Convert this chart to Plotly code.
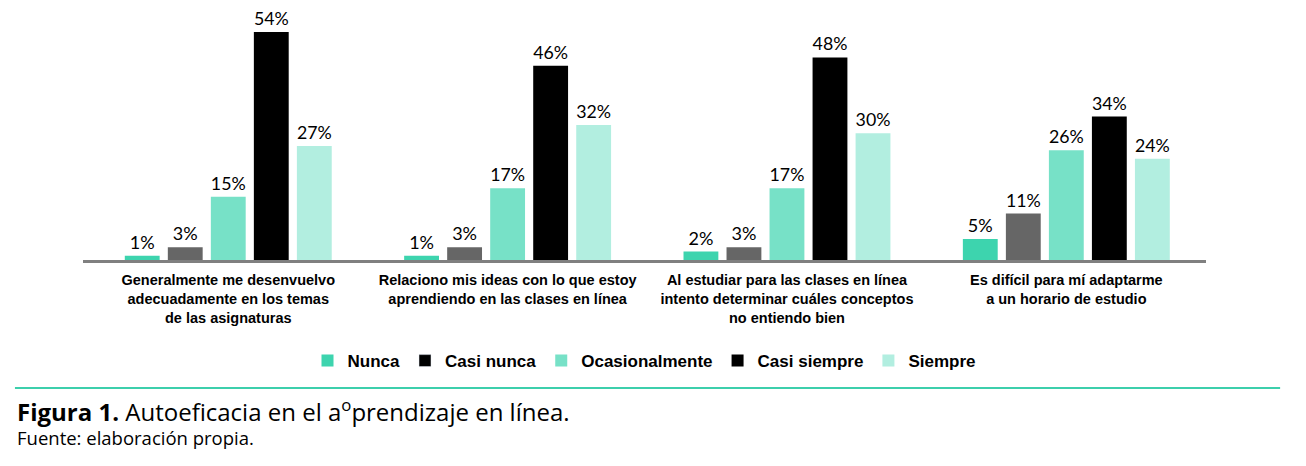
import plotly.graph_objects as go

categorias = [
    "Generalmente me desenvuelvo<br>adecuadamente en los temas<br>de las asignaturas",
    "Relaciono mis ideas con lo que estoy<br>aprendiendo en las clases en línea",
    "Al estudiar para las clases en línea<br>intento determinar cuáles conceptos<br>no entiendo bien",
    "Es difícil para mí adaptarme<br>a un horario de estudio",
]
series = ["Nunca", "Casi nunca", "Ocasionalmente", "Casi siempre", "Siempre"]
nunca = [1, 1, 2, 5]
casi_nunca = [3, 3, 3, 11]
ocasionalmente = [15, 17, 17, 26]
casi_siempre = [54, 46, 48, 34]
siempre = [27, 32, 30, 24]

valores = [nunca, casi_nunca, ocasionalmente, casi_siempre, siempre]
colores_barras = ["#3dd4ae", "#666666", "#77e1c7", "#000000", "#b2eee0"]
colores_leyenda = ["#3dd4ae", "#000000", "#77e1c7", "#000000", "#b2eee0"]

x = list(range(len(categorias)))

fig = go.Figure()
for nombre, vals, cb, cl in zip(series, valores, colores_barras, colores_leyenda):
    fig.add_trace(go.Bar(
        x=x, y=vals, name=nombre,
        marker=dict(color=cb, line=dict(width=0)),
        text=[f"{v}%" for v in vals],
        textposition="outside",
        textfont=dict(family="Lato, sans-serif", size=18, color="black"),
        cliponaxis=False,
        showlegend=(cb == cl),
    ))
    if cb != cl:
        # entrada de leyenda con el color del original
        fig.add_trace(go.Bar(
            x=[None], y=[None], name=nombre,
            marker=dict(color=cl),
            xaxis="x2", yaxis="y2",
        ))

fig.update_layout(
    width=1306, height=466,
    margin=dict(l=75, r=108, t=0, b=214),
    paper_bgcolor="white", plot_bgcolor="white",
    barmode="group", bargap=0.23, bargroupgap=0.19,
    xaxis=dict(
        tickvals=x, ticktext=categorias, range=[-0.52, 3.5],
        showline=True, linecolor="#808080", linewidth=3,
        showgrid=False, zeroline=False, ticks="", ticklabelstandoff=5,
        tickfont=dict(family="Liberation Sans, Arial, sans-serif", size=14.5,
                      color="black", weight="bold"),
    ),
    yaxis=dict(range=[0, 59.7], visible=False, showgrid=False),
    xaxis2=dict(overlaying="x", visible=False),
    yaxis2=dict(overlaying="y", visible=False),
    legend=dict(
        orientation="h", x=0.5, xanchor="center", y=-0.401, yanchor="middle",
        font=dict(family="Liberation Sans Narrow, Arial Narrow, sans-serif", size=17,
                  color="black", weight="bold"),
        itemclick=False,
    ),
    font=dict(family="Liberation Sans, Arial, sans-serif", color="black"),
    shapes=[dict(
        type="line", xref="paper", yref="paper",
        x0=-0.0606, x1=1.066, y0=-0.508, y1=-0.508,
        line=dict(color="#3ccfac", width=2),
    )],
    annotations=[
        dict(
            xref="paper", yref="paper", x=-0.0606, y=-0.599,
            xanchor="left", yanchor="middle", showarrow=False,
            text="<b>Figura 1.</b> Autoeficacia en el a<sup>o</sup>prendizaje en línea.",
            font=dict(family="Open Sans, sans-serif", size=24, color="black"),
        ),
        dict(
            xref="paper", yref="paper", x=-0.0606, y=-0.706,
            xanchor="left", yanchor="middle", showarrow=False,
            text="Fuente: elaboración propia.",
            font=dict(family="Open Sans, sans-serif", size=18.5, color="black"),
        ),
    ],
)

fig.write_html("out.html")
